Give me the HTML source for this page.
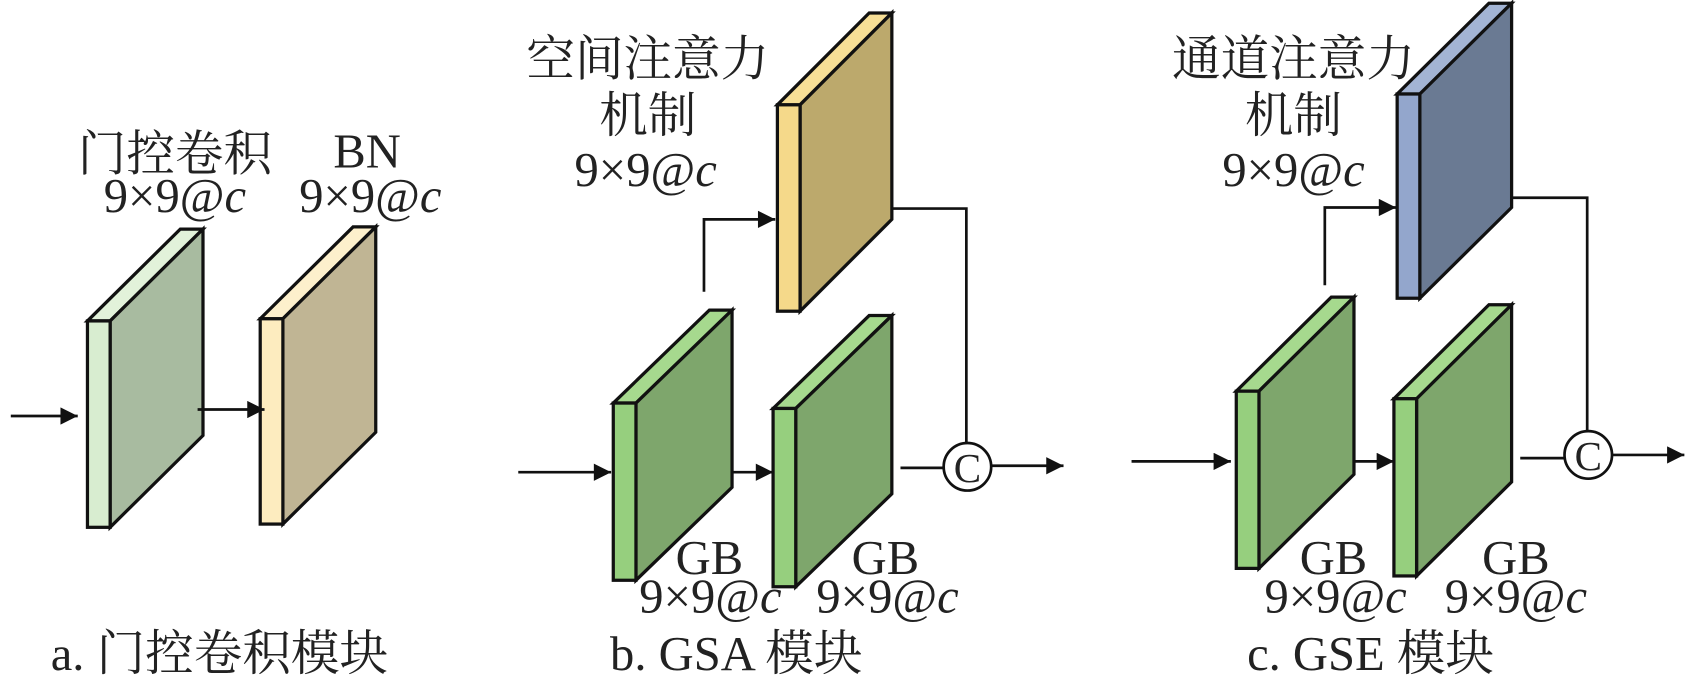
<!DOCTYPE html>
<html><head><meta charset="utf-8"><style>
html,body{margin:0;padding:0;background:#fff;}
svg{display:block;}
text{font-family:"Liberation Serif","Noto Serif CJK SC",serif;font-size:45px;fill:#222;}
</style></head><body>
<svg width="1693" height="684" viewBox="0 0 1568 633" preserveAspectRatio="none" xmlns="http://www.w3.org/2000/svg">
<defs>
<marker id="a2" viewBox="0 0 10 10" markerWidth="18" markerHeight="16" refX="10" refY="5" orient="auto" markerUnits="userSpaceOnUse"><path d="M0,0 L10,5 L0,10 Z" fill="#111"/></marker></defs>
<g stroke="#111" stroke-width="3" stroke-linejoin="miter">
<polygon points="81,297 102,297 188,212 167,212" fill="#e2f2da"/>
<polygon points="102,297 188,212 188,403 102,488" fill="#a8bba0"/>
<rect x="81" y="297" width="21" height="191" fill="#d8edd0"/>
<polygon points="241,295 262,295 348,210 327,210" fill="#fdf0cc"/>
<polygon points="262,295 348,210 348,400 262,485" fill="#c0b594"/>
<rect x="241" y="295" width="21" height="190" fill="#fdecbf"/>
<polygon points="720,97 741,97 826,12 805,12" fill="#f7df96"/>
<polygon points="741,97 826,12 826,203 741,288" fill="#bca96c"/>
<rect x="720" y="97" width="21" height="191" fill="#f5d98a"/>
<polygon points="568,373 589,373 678,287 657,287" fill="#a6d98e"/>
<polygon points="589,373 678,287 678,451 589,537" fill="#7ea66c"/>
<rect x="568" y="373" width="21" height="164" fill="#96cf7e"/>
<polygon points="716,378 737,378 826,292 805,292" fill="#a6d98e"/>
<polygon points="737,378 826,292 826,457 737,543" fill="#7ea66c"/>
<rect x="716" y="378" width="21" height="165" fill="#96cf7e"/>
<polygon points="1294,87 1315,87 1400,3 1379,3" fill="#a3b4d4"/>
<polygon points="1315,87 1400,3 1400,192 1315,276" fill="#6a7a93"/>
<rect x="1294" y="87" width="21" height="189" fill="#93a6cc"/>
<polygon points="1145,362 1166,362 1254,275 1233,275" fill="#a6d98e"/>
<polygon points="1166,362 1254,275 1254,439 1166,526" fill="#7ea66c"/>
<rect x="1145" y="362" width="21" height="164" fill="#96cf7e"/>
<polygon points="1291,369 1312,369 1400,282 1379,282" fill="#a6d98e"/>
<polygon points="1312,369 1400,282 1400,446 1312,533" fill="#7ea66c"/>
<rect x="1291" y="369" width="21" height="164" fill="#96cf7e"/>
</g>
<g stroke="#111" stroke-width="2.5" fill="none">
<line x1="10" y1="385" x2="72" y2="385" marker-end="url(#a2)"/>
<line x1="183" y1="379" x2="245" y2="379" marker-end="url(#a2)"/>
<line x1="480" y1="437" x2="566" y2="437" marker-end="url(#a2)"/>
<line x1="678" y1="437" x2="716" y2="437" marker-end="url(#a2)"/>
<polyline points="652,270 652,203 718,203" marker-end="url(#a2)"/>
<polyline points="826,193 895,193 895,410"/>
<line x1="834" y1="433" x2="874" y2="433"/>
<line x1="918" y1="431" x2="985" y2="431" marker-end="url(#a2)"/>
<circle cx="896" cy="432" r="22" fill="#fff"/>
<line x1="1048" y1="427" x2="1140" y2="427" marker-end="url(#a2)"/>
<line x1="1255" y1="427" x2="1291" y2="427" marker-end="url(#a2)"/>
<polyline points="1227,264 1227,192 1293,192" marker-end="url(#a2)"/>
<polyline points="1400,183 1470,183 1470,400"/>
<line x1="1408" y1="424" x2="1449" y2="424"/>
<line x1="1493" y1="421" x2="1560" y2="421" marker-end="url(#a2)"/>
<circle cx="1471" cy="421" r="22" fill="#fff"/>
</g>
<g text-anchor="middle">
<text x="896" y="446" style="font-size:38px">C</text>
<text x="1471" y="435" style="font-size:38px">C</text>
<text x="162" y="158">门控卷积</text>
<text x="162" y="196">9×9@<tspan font-style="italic">c</tspan></text>
<text x="340" y="155">BN</text>
<text x="343" y="196">9×9@<tspan font-style="italic">c</tspan></text>
<text x="600" y="70">空间注意力</text>
<text x="600" y="122">机制</text>
<text x="598" y="172">9×9@<tspan font-style="italic">c</tspan></text>
<text x="657" y="531">GB</text>
<text x="658" y="567">9×9@<tspan font-style="italic">c</tspan></text>
<text x="820" y="531">GB</text>
<text x="822" y="567">9×9@<tspan font-style="italic">c</tspan></text>
<text x="1198" y="70">通道注意力</text>
<text x="1198" y="122">机制</text>
<text x="1198" y="172">9×9@<tspan font-style="italic">c</tspan></text>
<text x="1235" y="531">GB</text>
<text x="1237" y="567">9×9@<tspan font-style="italic">c</tspan></text>
<text x="1404" y="531">GB</text>
<text x="1404" y="567">9×9@<tspan font-style="italic">c</tspan></text>
</g>
<text x="47" y="620">a. 门控卷积模块</text>
<text x="565" y="620">b. GSA 模块</text>
<text x="1155" y="620">c. GSE 模块</text>
</svg>
</body></html>
